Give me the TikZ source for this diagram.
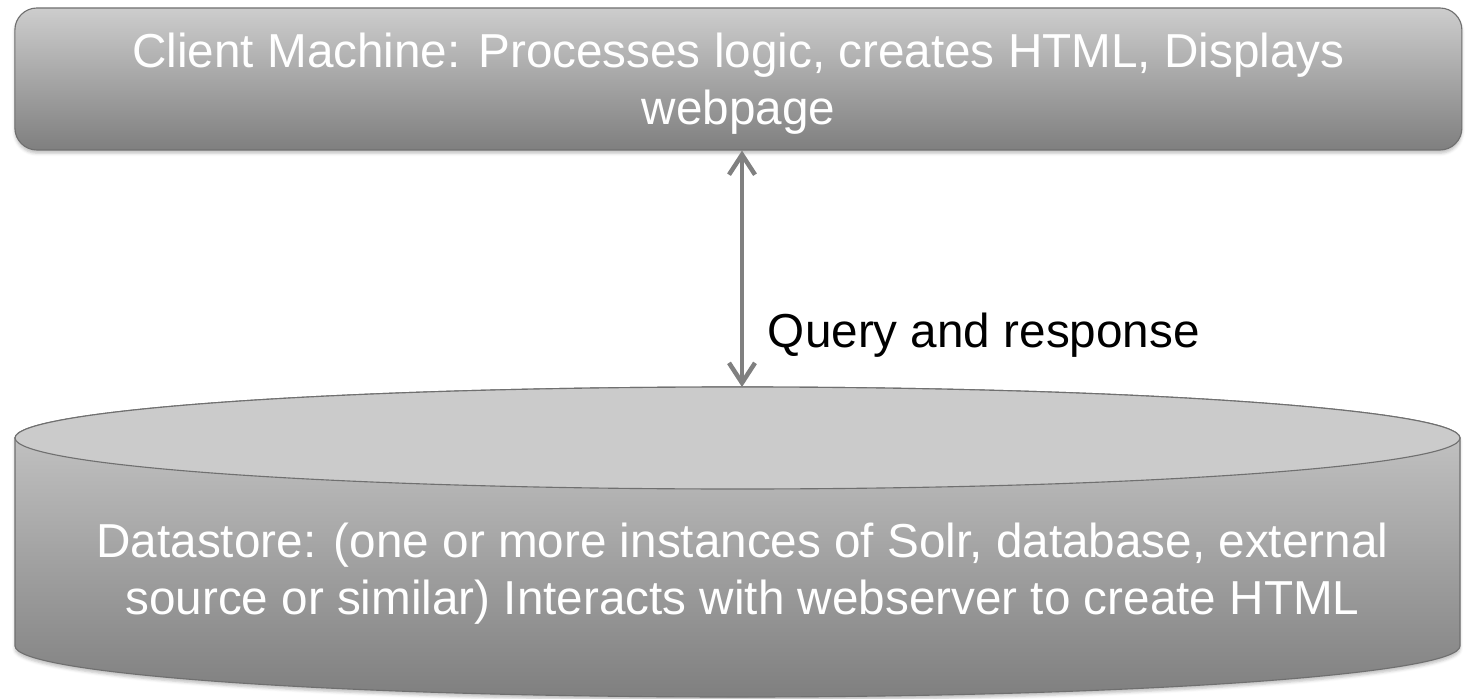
\documentclass[tikz,border=0pt]{standalone}
\usepackage{fontspec}
\setmainfont{Liberation Sans}
\usetikzlibrary{arrows.meta,shadows.blur}
\definecolor{boxtop}{HTML}{CDCDCD}
\definecolor{boxbottom}{HTML}{7F7F7F}
\definecolor{edgegray}{HTML}{707070}
\definecolor{arrowgray}{HTML}{808080}
\definecolor{lidgray}{HTML}{CBCBCB}
\newcommand{\bigtext}{\fontsize{33.9}{40.6}\selectfont}

\begin{document}
\begin{tikzpicture}[
    machine/.style={draw=edgegray, line width=0.8pt, rounded corners=0.55cm,
        top color=boxtop, bottom color=boxbottom,
        minimum width=36.175cm, minimum height=3.55cm, inner sep=0pt,
        align=center, text=white, font=\bigtext, text depth=0pt,
        blur shadow={shadow xshift=0pt, shadow yshift=-0.08cm, shadow opacity=25}},
    storetext/.style={align=center, text=white, font=\bigtext, text depth=0pt},
    link/.style={arrowgray, line width=3.2pt,
        {Straight Barb[length=0.5cm,width=0.65cm]}-{Straight Barb[length=0.5cm,width=0.65cm]}}
]
    \useasboundingbox (0,0) rectangle (36.7,-17.475);

    % Client machine box
    \node[machine] (client) at (18.46,-1.975)
        {Client Machine: Processes logic, creates HTML, Displays\\webpage};

    % Datastore cylinder
    \draw[edgegray, line width=0.8pt, top color=boxtop, bottom color=boxbottom,
        blur shadow={shadow xshift=0pt, shadow yshift=-0.08cm, shadow opacity=25}]
        (0.375,-10.95) -- (0.375,-16.15)
        arc[start angle=180, end angle=360, x radius=18.0625, y radius=1.275]
        -- (36.5,-10.95)
        arc[start angle=0, end angle=180, x radius=18.0625, y radius=1.275] -- cycle;
    \draw[edgegray, line width=0.8pt, fill=lidgray]
        (18.4375,-10.95) ellipse [x radius=18.0625, y radius=1.275];
    \coordinate (storetop) at (18.55,-9.675);
    \node[storetext] (store) at (18.56,-14.225)
        {Datastore: (one or more instances of Solr, database, external\\source or similar) Interacts with webserver to create HTML};

    % Query and response link
    \draw[link] (client.south -| storetop) -- (storetop);
    \node[anchor=base west, font=\bigtext] (query) at (19.075,-8.675) {Query and response};
\end{tikzpicture}
\end{document}
